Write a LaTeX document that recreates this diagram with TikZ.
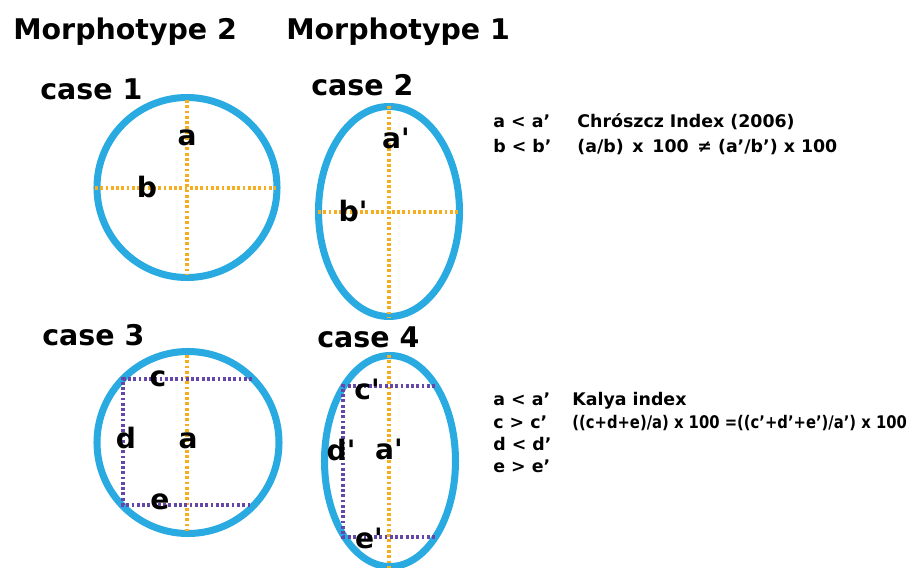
\documentclass[tikz,border=0pt]{standalone}
\usepackage{fontspec}
\setmainfont{DejaVu Sans}
\usetikzlibrary{positioning}
\definecolor{ringblue}{HTML}{29ABE2}
\definecolor{axisorange}{HTML}{F7AE1E}
\definecolor{boxpurple}{HTML}{6447A8}
\newcommand{\pr}{\textquotesingle}

\begin{document}
\begin{tikzpicture}[x=0.02cm, y=-0.02cm,
    ring/.style={draw=ringblue, line width=4pt},
    axisdot/.style={draw=axisorange, line width=2pt,
                    dash pattern=on 1.6pt off 1.4pt},
    boxdot/.style={draw=boxpurple, line width=2pt,
                   dash pattern=on 1.6pt off 1.4pt},
    head/.style={font=\fontsize{16.2}{19}\selectfont\bfseries,
                 inner sep=0pt, anchor=base west},
    lbl/.style={font=\fontsize{16}{19}\selectfont\bfseries, inner sep=0pt},
    note/.style={font=\fontsize{9.9}{12}\selectfont\bfseries,
                 inner sep=0pt, anchor=base west},
  ]
  \useasboundingbox (0,0) rectangle (914,568);

  % headings
  \node[head] (mt2) at (13,39) {Morphotype 2};
  \node[head] (mt1) at (286,39) {Morphotype 1};
  \node[head] (cs1) at (40,99) {case 1};
  \node[head] (cs2) at (311,95) {case 2};
  \node[head] (cs3) at (42,345) {case 3};
  \node[head] (cs4) at (317,347) {case 4};

  % case 1
  \coordinate (c1) at (187,187.5);
  \draw[ring] (c1) circle[radius=90];
  \draw[axisdot] (187,100) -- (187,274);
  \draw[axisdot] (95,188) -- (276,188);
  \node[lbl] (a1) at (187,138) {a};
  \node[lbl] (b1) at (147,187) {b};

  % case 2
  \coordinate (c2) at (389,211.5);
  \draw[ring] (c2) ellipse[x radius=70.5, y radius=105];
  \draw[axisdot] (389,106) -- (389,318);
  \draw[axisdot] (318,212) -- (460,212);
  \node[lbl] (a2) at (396,138) {a\pr};
  \node[lbl] (b2) at (353,211) {b\pr};

  % case 3
  \coordinate (c3) at (188,442.5);
  \draw[ring] (c3) circle[radius=91];
  \draw[axisdot] (187,355) -- (187,531);
  \draw[boxdot] (252,379) -- (123,379) -- (123,505) -- (252,505);
  \node[lbl] (cc3) at (158,379) {c};
  \node[lbl] (d3) at (126,438) {d};
  \node[lbl] (a3) at (188,441) {a};
  \node[lbl] (e3) at (160,502) {e};

  % case 4
  \coordinate (c4) at (390,461);
  \draw[ring] (c4) ellipse[x radius=65.5, y radius=105.5];
  \draw[axisdot] (389,355) -- (389,570);
  \draw[boxdot] (435,386) -- (343,386) -- (343,537) -- (435,537);
  \node[lbl] (cc4) at (367,389) {c\pr};
  \node[lbl] (d4) at (341,450) {d\pr};
  \node[lbl] (a4) at (389,449) {a\pr};
  \node[lbl] (e4) at (369,538) {e\pr};

  % indices
  \node[note] (r1) at (493,127) {a < a’};
  \node[note] (r2) at (493,152) {b < b’};
  \node[note] (chr) at (577,127) {Chrószcz Index (2006)};
  \node[note] (chf) at (577,152)
    {(a/b)\enspace x\enspace 100\enspace ≠ (a’/b’) x 100};

  \node[note] (k1) at (493,405) {a < a’};
  \node[note] (k2) at (493,428) {c > c’};
  \node[note] (k3) at (493,450) {d < d’};
  \node[note] (k4) at (493,472) {e > e’};
  \node[note] (kal) at (572,405) {Kalya index};
  \node[note] (kaf) at (572,428)
    {\scalebox{0.85}[1]{((c+d+e)/a) x 100 =((c’+d’+e’)/a’) x 100}};
\end{tikzpicture}
\end{document}
